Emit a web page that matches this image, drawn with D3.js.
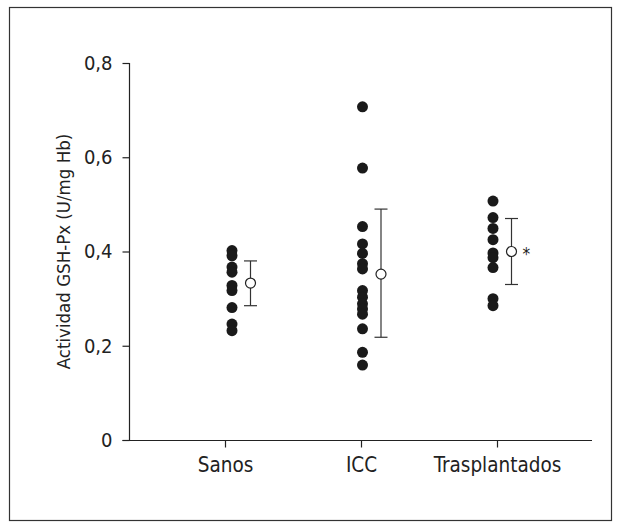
<!DOCTYPE html>
<html>
<head>
<meta charset="utf-8">
<script src="https://cdn.jsdelivr.net/npm/d3@7"></script>
<style>
  body { margin: 0; background: #fff; }
  text { font-family: "Liberation Sans Narrow", "Arial Narrow", "DejaVu Sans Condensed", sans-serif; fill: #222; }
</style>
</head>
<body>
<svg id="chart" width="622" height="528"></svg>
<script>
// categories and values
const categories = ["Sanos", "ICC", "Trasplantados"];
const sanos = [0.402, 0.391, 0.367, 0.356, 0.328, 0.317, 0.281, 0.246, 0.232];
const icc = [0.707, 0.577, 0.453, 0.416, 0.396, 0.374, 0.363, 0.317, 0.303, 0.289, 0.278, 0.267, 0.236, 0.186, 0.159];
const trasplantados = [0.507, 0.472, 0.449, 0.425, 0.397, 0.387, 0.366, 0.300, 0.285];
const means = [0.333, 0.352, 0.400];
const upper = [0.380, 0.490, 0.470];
const lower = [0.285, 0.218, 0.330];
const marks = ["", "", "*"];
const yTicks = [0, 0.2, 0.4, 0.6, 0.8];
const yTickLabels = ["0", "0,2", "0,4", "0,6", "0,8"];

const groups = [sanos, icc, trasplantados];

const svg = d3.select("#chart");

// outer frame
svg.append("rect")
    .attr("x", 9.5).attr("y", 7.5)
    .attr("width", 602).attr("height", 513)
    .attr("fill", "none")
    .attr("stroke", "#333")
    .attr("stroke-width", 1.2);

// scales
let y = d3.scaleLinear().domain([0, 0.8]).range([440, 63]);
let xTick = d3.scalePoint().domain(categories).range([225, 497]);
let xDot = d3.scalePoint().domain(categories).range([232, 493]);
let meanShift = 18.5;

// y axis
svg.append("g")
    .attr("transform", "translate(129.5,0)")
    .call(d3.axisLeft(y).tickValues(yTicks).tickSize(7).tickPadding(10)
        .tickFormat((d, i) => yTickLabels[i]))
    .call(g => g.select(".domain").attr("d", "M0," + y(0.8) + "V" + y(0)))
    .call(g => g.selectAll("line, path").attr("stroke", "#222").attr("stroke-width", 1.2))
    .call(g => g.selectAll("text").style("font-size", "20px"));

// x axis
svg.append("g")
    .attr("transform", "translate(0," + (y(0) + 0.5) + ")")
    .call(d3.axisBottom(xTick).tickSize(7).tickPadding(10))
    .call(g => g.select(".domain").attr("d", "M122.5,0H592"))
    .call(g => g.selectAll("line, path").attr("stroke", "#222").attr("stroke-width", 1.2))
    .call(g => g.selectAll("text").style("font-size", "20.5px"));

// y axis title
svg.append("text")
    .attr("transform", "translate(70," + ((y(0) + y(0.8)) / 2) + ") rotate(-90)")
    .attr("text-anchor", "middle")
    .style("font-size", "18.5px")
    .text("Actividad GSH-Px (U/mg Hb)");

// individual points
groups.forEach(function (vals, gi) {
    svg.append("g").selectAll("circle")
        .data(vals)
        .enter().append("circle")
        .attr("cx", xDot(categories[gi]))
        .attr("cy", d => y(d))
        .attr("r", 5.5)
        .attr("fill", "#1a1a1a");
});

// error bars + means
let eb = svg.append("g").attr("stroke", "#333").attr("stroke-width", 1.2);
categories.forEach(function (c, i) {
    let cx = xDot(c) + meanShift;
    eb.append("line").attr("x1", cx).attr("x2", cx).attr("y1", y(upper[i])).attr("y2", y(lower[i]));
    eb.append("line").attr("x1", cx - 6.5).attr("x2", cx + 6.5).attr("y1", y(upper[i])).attr("y2", y(upper[i]));
    eb.append("line").attr("x1", cx - 6.5).attr("x2", cx + 6.5).attr("y1", y(lower[i])).attr("y2", y(lower[i]));
    eb.append("circle").attr("cx", cx).attr("cy", y(means[i])).attr("r", 5)
        .attr("fill", "#fff").attr("stroke", "#222");
    if (marks[i]) {
        svg.append("text")
            .attr("x", cx + 11).attr("y", y(means[i]) + 8)
            .style("font-size", "17px")
            .text(marks[i]);
    }
});
</script>
</body>
</html>
